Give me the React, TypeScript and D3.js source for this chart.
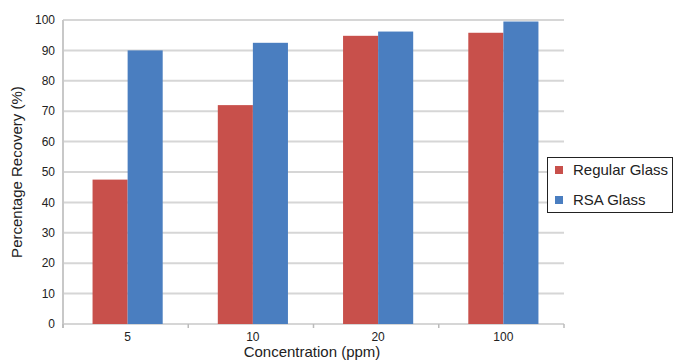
import React from "react";
import * as d3 from "d3";

const categories = ["5", "10", "20", "100"];
const seriesNames = ["Regular Glass", "RSA Glass"];
const regularGlass = [47.5, 72, 94.8, 95.8];
const rsaGlass = [90, 92.5, 96.2, 99.5];
const yTicks = [0, 10, 20, 30, 40, 50, 60, 70, 80, 90, 100];
const colors = ["#c8504b", "#4a7ec0"];

const W = 674;
const H = 360;
const FONT = "'Liberation Sans Narrow', 'Arial Narrow', 'Liberation Sans', Arial, sans-serif";

export default function App() {
  const left = 63, right = 564, top = 20, bottom = 324;
  const x = d3.scaleBand<string>().domain(categories).range([left + 2, right + 2]).paddingInner(0.44).paddingOuter(0.22);
  const xs = d3.scaleBand<string>().domain(seriesNames).range([0, x.bandwidth()]);
  const y = d3.scaleLinear().domain([0, 100]).range([bottom, top]);
  const series = [regularGlass, rsaGlass];
  const step = (right - left) / categories.length;

  return (
    <svg width={W} height={H} style={{ position: "absolute", left: 0, top: 0, background: "#fff" }}>
      {yTicks.map((t) => (
        <g key={t}>
          <line x1={left} x2={right} y1={y(t)} y2={y(t)} stroke="#d6d6d6" strokeWidth={2} />
          <text x={55} y={y(t)} dy="0.35em" textAnchor="end" fontFamily={FONT} fontSize={12} fill="#222">{t}</text>
        </g>
      ))}
      <line x1={left} x2={left} y1={top} y2={bottom + 4} stroke="#c8c8c8" strokeWidth={2} />
      {d3.range(categories.length + 1).map((i) => (
        <line key={i} x1={left + step * i} x2={left + step * i} y1={bottom} y2={bottom + 4} stroke="#bbb" strokeWidth={1.5} />
      ))}
      {categories.map((c, ci) => (
        <g key={c}>
          {series.map((s, si) => (
            <rect key={si} x={(x(c) ?? 0) + (xs(seriesNames[si]) ?? 0)} y={y(s[ci])} width={xs.bandwidth()} height={bottom - y(s[ci])} fill={colors[si]} />
          ))}
          <text x={(x(c) ?? 0) + x.bandwidth() / 2} y={341} textAnchor="middle" fontFamily={FONT} fontSize={12} fill="#222">{c}</text>
        </g>
      ))}
      <text x={312} y={357} textAnchor="middle" fontFamily={FONT} fontSize={15} fill="#222">Concentration (ppm)</text>
      <text transform={`translate(22,172) rotate(-90)`} textAnchor="middle" fontFamily={FONT} fontSize={15} fill="#222">Percentage Recovery (%)</text>
      <rect x={547.5} y={157.5} width={125} height={55} fill="#fff" stroke="#222" strokeWidth={1} />
      {seriesNames.map((n, i) => (
        <g key={n}>
          <rect x={555} y={166 + i * 30} width={8} height={8} fill={colors[i]} />
          <text x={573} y={170 + i * 30} dy="0.35em" fontFamily={FONT} fontSize={15} fill="#222">{n}</text>
        </g>
      ))}
    </svg>
  );
}
